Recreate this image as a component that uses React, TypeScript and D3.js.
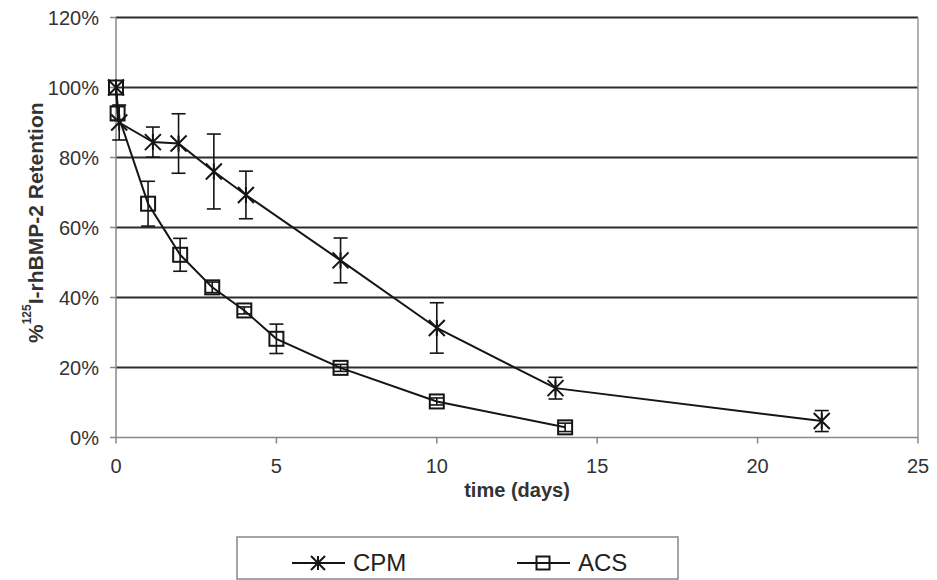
import React from "react";
import * as d3 from "d3";

// time (days) and % retention, with error bar half-widths
const cpmDays = [0, 0.1, 1.15, 1.95, 3.05, 4.05, 7.0, 10.0, 13.7, 22.0];
const cpmValues = [100, 90, 84.4, 84, 76, 69.3, 50.6, 31.3, 14.1, 4.7];
const cpmErrors = [0, 5, 4.3, 8.5, 10.7, 6.8, 6.4, 7.2, 3.1, 3.0];

const acsDays = [0, 0.05, 1.0, 2.0, 3.0, 4.0, 5.0, 7.0, 10.0, 14.0];
const acsValues = [100, 92.6, 66.8, 52.2, 42.9, 36.3, 28.2, 19.9, 10.3, 2.9];
const acsErrors = [0, 2, 6.4, 4.7, 1.5, 1, 4.2, 1, 1, 1.2];

const xTicks = [0, 5, 10, 15, 20, 25];
const yTicks = [0, 20, 40, 60, 80, 100, 120];
const seriesNames = ["CPM", "ACS"];

const W = 937;
const H = 580;
const margin = { top: 17.5, right: 19, bottom: 142.5, left: 116 };

const x = d3.scaleLinear().domain([0, 25]).range([margin.left, W - margin.right]);
const y = d3.scaleLinear().domain([0, 120]).range([H - margin.bottom, margin.top]);

const INK = "#151515";

type Pt = { t: number; v: number; e: number };
const toPts = (days: number[], vals: number[], errs: number[]): Pt[] =>
  days.map((t, i) => ({ t, v: vals[i], e: errs[i] }));

const cpm = toPts(cpmDays, cpmValues, cpmErrors);
const acs = toPts(acsDays, acsValues, acsErrors);

const line = d3
  .line<Pt>()
  .x((d) => x(d.t))
  .y((d) => y(d.v));

const Star = ({ cx, cy, s = 8 }: { cx: number; cy: number; s?: number }) => (
  <path
    d={`M${cx - s},${cy - s}L${cx + s},${cy + s}M${cx - s},${cy + s}L${cx + s},${cy - s}M${cx},${cy - s}L${cx},${cy + s}`}
    stroke={INK}
    strokeWidth={2}
    fill="none"
  />
);

const Square = ({ cx, cy, s = 7 }: { cx: number; cy: number; s?: number }) => (
  <rect x={cx - s} y={cy - s} width={2 * s} height={2 * s} stroke={INK} strokeWidth={2} fill="none" />
);

const ErrorBars = ({ pts }: { pts: Pt[] }) => (
  <g stroke={INK} strokeWidth={1.6}>
    {pts
      .filter((d) => d.e > 0)
      .map((d, i) => {
        const cx = x(d.t);
        const y1 = y(d.v + d.e);
        const y2 = y(d.v - d.e);
        return (
          <g key={i}>
            <line x1={cx} x2={cx} y1={y1} y2={y2} />
            <line x1={cx - 7} x2={cx + 7} y1={y1} y2={y1} />
            <line x1={cx - 7} x2={cx + 7} y1={y2} y2={y2} />
          </g>
        );
      })}
  </g>
);

export default function App() {
  const [x0, x1] = x.range();
  const [y0, y1] = y.range();
  return (
    <div style={{ position: "absolute", left: 0, top: 0 }}>
      <svg width={W} height={H} style={{ display: "block", background: "#fff" }} fontFamily="'Liberation Sans', Arial, sans-serif">
        {/* grid lines */}
        {yTicks
          .filter((t) => t > 0)
          .map((t) => (
            <line key={t} x1={x0} x2={x1} y1={y(t)} y2={y(t)} stroke="#2c2c2c" strokeWidth={2} />
          ))}
        {/* right border */}
        <line x1={x1} x2={x1} y1={y1} y2={y0} stroke="#999" strokeWidth={1.5} />
        {/* axes */}
        <line x1={x0} x2={x0} y1={y1} y2={y0} stroke="#888" strokeWidth={1.5} />
        <line x1={x0} x2={x1} y1={y0} y2={y0} stroke="#888" strokeWidth={1.5} />
        {yTicks.map((t) => (
          <g key={t}>
            <line x1={x0 - 6} x2={x0} y1={y(t)} y2={y(t)} stroke="#888" strokeWidth={1.5} />
            <text x={x0 - 17} y={y(t)} dy="0.36em" textAnchor="end" fontSize={20} fill="#333">
              {t}%
            </text>
          </g>
        ))}
        {xTicks.map((t) => (
          <g key={t}>
            <line x1={x(t)} x2={x(t)} y1={y0} y2={y0 + 6} stroke="#888" strokeWidth={1.5} />
            <text x={x(t)} y={473} textAnchor="middle" fontSize={20} fill="#333">
              {t}
            </text>
          </g>
        ))}

        {/* axis titles */}
        <text x={(x0 + x1) / 2} y={497} textAnchor="middle" fontSize={20} fontWeight="bold" fill="#333">
          time (days)
        </text>
        <text transform="translate(43,343) rotate(-90)" textAnchor="start" fontSize={21} fontWeight="bold" fill="#333">
          %
          <tspan dy={-12} fontSize={12}>125</tspan>
          <tspan dy={12}>I-rhBMP-2 Retention</tspan>
        </text>

        {/* series */}
        <ErrorBars pts={cpm} />
        <ErrorBars pts={acs} />
        <path d={line(cpm) ?? ""} fill="none" stroke={INK} strokeWidth={2} />
        <path d={line(acs) ?? ""} fill="none" stroke={INK} strokeWidth={2} />
        {cpm.map((d, i) => (
          <Star key={i} cx={x(d.t)} cy={y(d.v)} />
        ))}
        {acs.map((d, i) => (
          <Square key={i} cx={x(d.t)} cy={y(d.v)} />
        ))}

        {/* legend */}
        <rect x={237} y={537} width={441} height={42} fill="#fff" stroke="#888" strokeWidth={1.5} />
        {seriesNames.map((name, i) => {
          const lx = 292 + i * 225;
          const ly = 563;
          return (
            <g key={name}>
              <line x1={lx} x2={lx + 53} y1={ly} y2={ly} stroke={INK} strokeWidth={2} />
              {i === 0 ? <Star cx={lx + 26} cy={ly} s={7} /> : <Square cx={lx + 26} cy={ly} s={6.5} />}
              <text x={lx + 61} y={571} fontSize={24} fill="#222">
                {name}
              </text>
            </g>
          );
        })}
      </svg>
    </div>
  );
}
